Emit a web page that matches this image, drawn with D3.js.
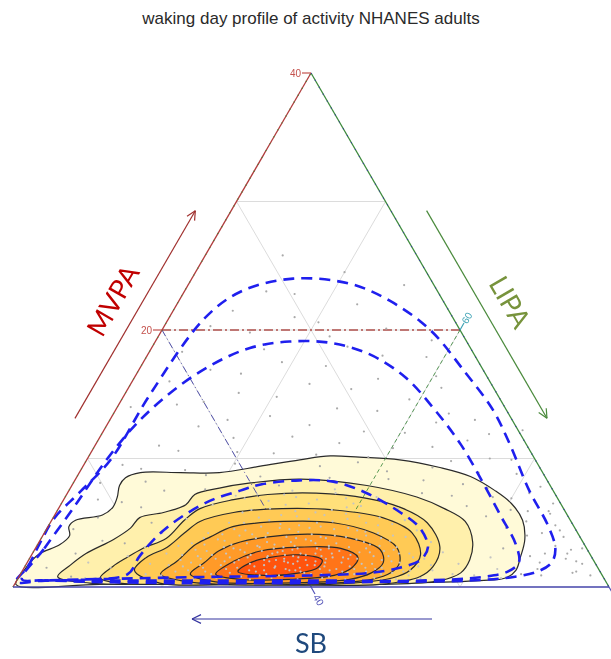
<!DOCTYPE html>
<html>
<head>
<meta charset="utf-8">
<script src="https://cdn.jsdelivr.net/npm/d3@7"></script>
<style>
  body { margin: 0; background: #fff; }
  svg { display: block; }
</style>
</head>
<body>
<svg id="chart" width="611" height="659"></svg>
<script>
// Compositions are written as [MVPA %, LIPA %]; SB % = 100 - MVPA - LIPA.
// The plotted sub-simplex: MVPA 0-40, LIPA 40-80, SB 20-60.

const title = "waking day profile of activity NHANES adults";

// kernel density regions, outermost (lowest density) first
const density1 = [[0.2,40.1],[1.3,40.1],[1.9,40.2],[2.6,40.5],[3.3,41.5],[4.0,41.8],[4.7,41.4],[5.2,41.6],[5.6,43.2],[6.2,43.6],[7.0,43.5],[7.9,43.2],[8.5,43.3],[8.9,44.1],[8.9,46.8],[8.9,49.4],[9.4,51.9],[9.9,54.3],[10.2,56.2],[10.1,58.2],[9.9,61.0],[9.3,64.0],[8.6,66.4],[7.5,68.6],[6.5,70.2],[5.2,71.6],[3.7,72.5],[2.3,72.9],[1.3,73.1],[0.7,72.7],[0.5,71.1],[0.3,65.8],[0.2,59.1],[0.2,52.4],[0.2,45.7]];
const density2 = [[0.8,42.6],[1.7,43.0],[2.6,43.6],[3.7,44.9],[4.6,45.6],[5.4,45.8],[5.8,47.2],[6.4,48.4],[7.2,48.6],[7.7,50.0],[8.1,51.9],[8.4,55.1],[7.9,59.8],[7.0,63.6],[6.1,65.9],[5.1,67.8],[3.5,69.1],[2.1,69.6],[1.1,69.5],[0.5,68.4],[0.2,64.5],[0.2,57.8],[0.2,49.8],[0.3,45.0]];
const density3 = [[0.7,45.5],[1.6,45.9],[2.3,46.5],[3.0,47.2],[3.8,48.4],[5.2,48.9],[6.1,49.5],[6.8,51.4],[7.2,53.5],[7.3,56.7],[6.9,60.3],[6.2,62.9],[5.0,65.3],[3.1,67.1],[1.6,67.4],[0.8,66.9],[0.2,64.5],[0.2,57.8],[0.2,50.4],[0.3,47.0]];
const density4 = [[1.3,47.5],[2.3,47.8],[3.1,48.8],[4.2,49.4],[5.1,50.0],[5.8,51.9],[6.1,55.0],[6.0,58.5],[5.4,62.1],[4.2,64.7],[2.5,66.1],[1.3,66.0],[0.7,65.1],[0.2,61.2],[0.2,54.5],[0.3,49.7]];
const density5 = [[1.0,49.4],[2.0,50.0],[3.3,50.6],[3.9,51.3],[4.7,52.4],[5.1,55.6],[5.0,59.0],[4.2,62.1],[3.1,64.2],[1.9,65.0],[1.1,64.8],[0.6,63.8],[0.2,59.1],[0.2,53.8],[0.5,51.0]];
const density6 = [[1.0,51.4],[1.9,51.9],[2.8,52.4],[3.5,53.5],[4.1,57.2],[3.8,60.7],[2.9,63.2],[1.9,63.9],[1.1,63.5],[0.6,62.3],[0.3,57.8],[0.4,53.4]];
const density7 = [[1.0,53.1],[2.0,53.8],[2.8,55.2],[3.1,57.7],[3.0,60.5],[2.3,62.0],[1.5,62.0],[0.9,61.1],[0.6,58.3],[0.6,54.9]];
const density8 = [[1.2,54.5],[1.9,55.0],[2.3,56.1],[2.5,58.0],[2.1,59.7],[1.5,59.7],[1.1,58.7],[0.9,56.4]];
const densityColors = ["#fffad8", "#fff0ac", "#ffe07a", "#ffca55", "#ffb23a", "#ff9a28", "#ff7418", "#ff540d"];

// coverage regions (dashed), outer to inner
const regionOuter = [[0.4,40.0],[1.6,40.2],[3.4,40.1],[5.4,40.1],[7.4,40.8],[9.9,41.6],[14.9,41.7],[20.9,42.4],[23.0,43.8],[24.0,46.8],[23.6,50.8],[22.3,54.1],[20.0,58.0],[16.7,62.0],[13.8,65.3],[11.1,67.8],[7.5,70.9],[4.8,73.5],[3.0,74.9],[1.9,75.2],[1.2,74.6],[0.8,73.3],[0.5,70.4],[0.4,64.4],[0.3,57.8],[0.3,51.1],[0.4,45.0],[0.5,41.9]];
const regionMiddle = [[0.6,40.3],[3.0,40.6],[6.4,41.0],[9.7,41.3],[12.6,41.9],[15.1,43.0],[17.2,44.6],[18.6,46.6],[19.1,49.0],[19.0,51.8],[18.1,54.9],[16.3,58.2],[13.8,61.4],[11.1,64.5],[8.2,67.4],[5.6,69.9],[3.3,72.1],[1.9,73.0],[1.2,72.6],[0.8,71.3],[0.5,67.1],[0.5,60.4],[0.5,52.3],[0.5,44.9],[0.5,41.5]];
const regionInner = [[0.5,41.2],[0.6,44.9],[1.0,47.2],[2.4,47.3],[4.2,47.8],[5.6,48.7],[6.8,50.0],[7.5,51.5],[8.0,52.7],[8.3,55.1],[8.2,57.4],[7.3,60.1],[5.8,63.1],[4.6,65.0],[3.1,66.3],[2.1,66.3],[1.5,65.2],[1.1,63.4],[0.9,59.5],[0.8,53.5],[0.7,48.8]];

// individual participants: low-density part of the sample
const participantsSparse = [
  [21.5,44.0],[22.8,47.5],[20.6,50.2],[19.8,46.0],[18.7,53.1],[17.5,49.3],[16.9,44.8],[16.2,56.4],[15.8,52.0],[15.1,47.6],
  [14.6,59.3],[14.2,43.9],[13.9,54.8],[13.3,50.6],[12.8,62.0],[12.5,46.2],[12.1,57.5],[11.7,52.9],[11.4,64.8],[11.0,44.3],
  [10.8,60.1],[10.5,49.8],[10.3,55.2],[10.0,67.0],[9.7,58.3],[9.5,42.6],[9.3,63.5],[9.1,47.0],[8.8,69.4],[8.6,52.3],
  [8.4,61.0],[8.2,44.8],[8.0,66.2],[7.8,71.5],[7.6,49.1],[7.3,63.8],[7.0,68.7],[6.8,42.3],[6.5,73.0],[6.2,45.5],
  [6.0,70.4],[5.7,73.2],[5.4,43.0],[5.1,71.9],[4.8,74.0],[4.5,41.8],[4.2,73.4],[3.9,75.0],[3.6,44.2],[3.2,74.8],
  [2.9,76.0],[2.6,42.9],[2.2,76.0],[1.8,77.3],[1.5,41.5],[1.2,77.2],[0.9,75.0],[24.5,50.0],[23.5,54.5],[25.8,45.2],
  [19.2,58.5],[17.9,58.8],[15.5,61.0],[13.0,64.5],[11.9,66.0],[9.9,68.5],[1.1,77.0],[3.0,76.7],[2.6,75.9],[2.6,74.4],
  [0.9,78.3],[18.3,42.2],[20.1,55.0],[14.0,40.9],[16.4,60.2],[12.2,68.1],[22.0,52.1],
  [23.0,45.5],[21.0,48.4],[20.3,43.1],[19.5,51.5],[18.5,47.6],[18.0,55.8],[17.2,52.4],[16.6,47.0],[16.0,42.5],[15.4,55.0],
  [14.8,50.3],[14.4,45.6],[13.7,57.6],[13.5,62.5],[13.0,47.9],[12.6,53.6],[12.0,60.3],[11.6,49.0],[11.2,56.3],[10.9,62.7],
  [10.6,45.8],[10.4,52.3],[10.1,58.8],[9.8,64.5],[9.6,50.1],[9.4,55.9],[9.2,44.0],[9.0,60.6],[8.9,66.8],[8.7,48.6],
  [8.5,57.0],[8.3,63.4],[8.1,41.8],[7.9,53.9],[7.7,68.0],[7.5,46.4],[7.1,65.9],[6.9,70.0],[6.6,44.0],[6.3,67.3],
  [5.9,71.6],[5.5,69.0],[5.0,46.8],[4.6,70.8],[4.0,72.5],[3.4,45.8],[3.0,71.4],[2.4,73.5],[1.9,74.4],[1.4,74.5],
  [1.0,73.6],[0.8,43.5],[2.0,76.8],[4.4,74.5],[5.9,73.0],[7.3,71.0]
];
// individual participants: high-density core
const participantsCore = [
  [1.1,47.2],[0.9,49.5],[1.3,51.1],[1.0,52.8],[1.4,53.6],[0.8,54.9],[1.2,55.7],[1.5,56.8],[0.9,57.4],[1.3,58.3],
  [1.1,59.0],[1.4,59.9],[0.8,60.8],[1.2,61.5],[1.0,62.4],[1.4,63.6],[1.1,64.9],[0.9,66.1],[1.3,67.5],[1.0,69.0],
  [1.2,50.3],[1.5,54.3],[0.9,56.1],[1.3,57.9],[1.0,60.2],[1.5,62.9],[1.2,65.6],
  [1.8,48.3],[2.1,50.2],[1.7,51.7],[2.2,52.5],[1.9,53.9],[2.3,54.6],[1.6,55.4],[2.0,56.2],[2.2,57.1],[1.8,57.9],
  [2.1,58.6],[1.7,59.4],[2.3,60.3],[1.9,61.1],[2.2,62.0],[1.8,63.2],[2.0,64.4],[2.3,65.7],[1.7,67.2],[2.1,55.8],
  [1.9,57.5],[2.2,59.9],[1.6,61.8],[2.0,53.2],
  [2.6,49.0],[2.9,50.8],[2.5,52.1],[3.0,53.3],[2.7,54.2],[3.1,55.0],[2.4,55.9],[2.8,56.7],[3.0,57.6],[2.5,58.4],
  [2.9,59.2],[2.6,60.1],[3.1,61.0],[2.7,61.9],[2.4,63.0],[2.9,64.1],[2.6,65.3],[2.8,55.3],[3.0,58.9],[2.5,57.0],[2.7,62.6],
  [3.4,50.3],[3.7,51.9],[3.3,53.0],[3.8,54.4],[3.5,55.3],[3.9,56.4],[3.2,57.3],[3.6,58.2],[3.8,59.1],[3.4,60.0],
  [3.7,61.2],[3.3,62.3],[3.6,63.5],[3.5,56.9],[3.9,58.7],
  [4.2,51.0],[4.5,52.6],[4.1,54.0],[4.6,55.6],[4.3,57.0],[4.7,58.3],[4.0,59.6],[4.4,60.9],[4.2,62.4],[4.5,56.3],
  [5.0,52.0],[5.4,53.8],[4.9,55.5],[5.3,57.2],[5.1,58.9],[5.5,60.5],[4.8,62.1],
  [6.0,53.0],[6.4,55.1],[5.8,57.4],[6.2,59.3],[6.6,61.4],
  [0.7,44.5],[1.5,45.8],[2.4,46.5],[3.1,47.3],[0.5,42.8],[1.9,44.1],[4.2,47.9],[5.3,49.0],[6.4,50.2],[7.1,51.4],[0.6,46.7],
  [0.9,70.5],[1.8,69.0],[2.7,67.5],[3.5,66.3],[4.4,64.9],[5.2,63.7],[6.1,62.8],[7.0,60.9],[7.6,57.8],[7.2,54.6],
  [6.9,52.1],[1.4,71.8],[2.3,70.9],[0.7,72.4],
  [0.6,51.8],[0.7,53.3],[0.6,55.6],[0.7,57.0],[0.6,58.8],[0.7,60.4],[0.6,62.0],[0.7,63.9],[0.6,65.4],[0.7,67.0],
  [1.0,48.4],[1.2,52.3],[1.1,54.0],[1.3,55.2],[1.0,56.5],[1.4,57.6],[1.2,58.7],[1.0,59.5],[1.3,60.6],[1.1,61.9],
  [1.4,62.2],[1.2,63.1],[1.0,64.2],[1.3,66.0],
  [1.7,49.6],[1.9,51.0],[2.2,51.5],[1.7,53.1],[2.1,54.1],[1.8,55.0],[2.3,55.9],[1.6,56.8],[2.0,57.2],[2.3,58.0],
  [1.7,58.9],[2.0,59.3],[2.2,61.4],[1.8,62.5],[2.1,63.7],[1.9,65.0],
  [2.5,50.1],[2.8,51.6],[2.6,53.0],[2.9,53.8],[2.5,54.7],[3.0,56.0],[2.7,56.4],[2.9,57.3],[2.6,58.0],[3.0,59.7],
  [2.8,60.5],[2.5,61.4],[3.0,62.2],[2.8,63.5],[2.6,64.6],
  [3.3,51.2],[3.6,52.4],[3.4,54.0],[3.9,55.0],[3.3,55.9],[3.7,57.8],[3.4,58.6],[3.9,60.4],[3.5,61.8],[3.2,63.0],[3.8,62.8],
  [4.1,52.0],[4.4,53.4],[4.2,55.0],[4.6,57.6],[4.1,58.0],[4.5,59.3],[4.3,61.5],[4.0,63.5],
  [5.0,53.0],[5.2,54.6],[5.5,56.3],[5.0,57.9],[5.3,59.8],[5.0,61.2],[5.6,58.1],
  [6.1,54.2],[6.5,56.6],[6.0,58.4],[6.3,60.2],[5.9,56.0],
  [7.0,55.5],[7.3,58.0],[6.8,57.0],[7.5,55.0],[7.2,52.8],
  [0.5,48.0],[0.5,50.5],[0.5,53.9],[0.5,57.8],[0.5,61.1],[0.5,64.5],[0.5,68.3],
  [1.6,50.6],[1.5,52.0],[1.6,60.1],[1.5,64.0],[1.6,66.4],
  [2.4,51.2],[2.3,53.4],[2.4,57.6],[2.3,61.0],[2.4,64.0],[2.2,66.5],
  [3.2,49.5],[3.1,52.6],[3.2,54.8],[3.1,56.6],[3.2,59.6],[3.1,64.2],
  [3.8,50.9],[4.0,53.2],[3.8,57.1],[4.0,61.7],[3.9,64.4],
  [4.7,54.3],[4.8,56.8],[4.6,60.2],[4.9,63.0],
  [5.6,55.2],[5.7,59.5],[5.4,61.9],[5.8,52.5],
  [6.7,53.8],[6.9,58.9],[6.5,59.6],
  [1.3,56.2],[1.7,56.0],[2.1,56.6],[2.6,56.1],[1.5,58.5],[2.0,58.1],[2.4,59.5],[1.9,60.0],[1.4,61.0],[2.6,59.0]
];

// axis ticks and grid
const mvpaTicks = [20, 40];
const lipaTicks = [60];
const sbTicks = [40];
const sbCornerTick = [20];
const mvpaGrid = [10, 20, 30];
const lipaGrid = [50, 60, 70];
const sbGrid = [30, 40, 50];
const mvpaRange = [0, 40], lipaRange = [40, 80], sbRange = [20, 60];

// ---------------------------------------------------------------
const svg = d3.select("#chart");
const apex = [311, 73], left = [13, 587], right = [609, 587];

const yMvpa = d3.scaleLinear().domain(mvpaRange).range([left[1], apex[1]]);
const xSb = d3.scaleLinear().domain([sbRange[1], sbRange[0]]).range([left[0], right[0]]);
// ternary -> screen: height from MVPA, horizontal position from SB + MVPA/2
const pos = ([m, l]) => [xSb(100 - l - m / 2), yMvpa(m)];

const closedPath = d3.line().x(d => pos(d)[0]).y(d => pos(d)[1])
  .curve(d3.curveCatmullRomClosed.alpha(0.5));
const straight = d3.line().x(d => pos(d)[0]).y(d => pos(d)[1]);

// title
svg.append("text").attr("x", 311).attr("y", 24).attr("text-anchor", "middle")
  .attr("font-family", "Liberation Sans, Arial, sans-serif").attr("font-size", 17)
  .attr("fill", "#2a2a2a").text(title);

// grid lines (every 10 %)
const gridG = svg.append("g").attr("stroke", "#dcdcdc").attr("stroke-width", 1).attr("fill", "none");
const mvpaLine = v => [[v, lipaRange[0]], [v, 100 - sbRange[0] - v]];
const lipaLine = v => [[100 - v - sbRange[0], v], [0, v]];
const sbLine = v => [[100 - v - lipaRange[0], lipaRange[0]], [0, 100 - v]];
mvpaGrid.forEach(v => gridG.append("path").attr("d", straight(mvpaLine(v))));
lipaGrid.forEach(v => gridG.append("path").attr("d", straight(lipaLine(v))));
sbGrid.forEach(v => gridG.append("path").attr("d", straight(sbLine(v))));

// density bands
const bands = [density1, density2, density3, density4, density5, density6, density7, density8];
const densG = svg.append("g");
bands.forEach((b, i) => {
  densG.append("path").attr("d", closedPath(b)).attr("fill", densityColors[i])
    .attr("stroke", "#2a2a2a").attr("stroke-width", 1.2);
});

// reference lines at the midpoints of each axis, hidden inside the dense core
const defs = svg.append("defs");
const mask = defs.append("mask").attr("id", "outsideCore").attr("maskUnits", "userSpaceOnUse");
mask.append("rect").attr("x", 0).attr("y", 0).attr("width", 611).attr("height", 659).attr("fill", "#fff");
mask.append("path").attr("d", closedPath(density4)).attr("fill", "#000");

const refG = svg.append("g").attr("fill", "none").attr("mask", "url(#outsideCore)");
refG.append("path").attr("d", straight(mvpaLine(20))).attr("stroke", "#b0504c")
  .attr("stroke-width", 1.5).attr("stroke-dasharray", "9,3,2,3");
refG.append("path").attr("d", straight(lipaLine(60))).attr("stroke", "#3d8a3d")
  .attr("stroke-width", 1).attr("stroke-dasharray", "4,3").attr("opacity", 0.85);
refG.append("path").attr("d", straight(sbLine(40))).attr("stroke", "#3a3aa0")
  .attr("stroke-width", 1).attr("stroke-dasharray", "7,3,1,3").attr("opacity", 0.85);

// participants
const ptG = svg.append("g");
ptG.selectAll("circle.sparse").data(participantsSparse).join("circle").attr("class", "sparse")
  .attr("cx", d => pos(d)[0]).attr("cy", d => pos(d)[1]).attr("r", 1.1)
  .attr("fill", "#a9a9a9");
ptG.selectAll("circle.core").data(participantsCore).join("circle").attr("class", "core")
  .attr("cx", d => pos(d)[0]).attr("cy", d => pos(d)[1]).attr("r", 1.1)
  .attr("fill", "#c4c4c4");

// coverage regions
const regG = svg.append("g").attr("fill", "none").attr("stroke", "#1f1fee")
  .attr("stroke-width", 2.6).attr("stroke-dasharray", "11,7");
[regionOuter, regionMiddle, regionInner].forEach(r => regG.append("path").attr("d", closedPath(r)));

// triangle edges
const edgeG = svg.append("g").attr("fill", "none");
edgeG.append("line").attr("x1", left[0]).attr("y1", left[1]).attr("x2", apex[0]).attr("y2", apex[1])
  .attr("stroke", "#b03c3c").attr("stroke-width", 1.3);
edgeG.append("line").attr("x1", left[0]).attr("y1", left[1]).attr("x2", apex[0]).attr("y2", apex[1])
  .attr("stroke", "#3d8a3d").attr("stroke-width", 1.2).attr("stroke-dasharray", "1,7");
edgeG.append("line").attr("x1", apex[0]).attr("y1", apex[1]).attr("x2", right[0]).attr("y2", right[1])
  .attr("stroke", "#3d8a3d").attr("stroke-width", 1.3);
edgeG.append("line").attr("x1", apex[0]).attr("y1", apex[1]).attr("x2", right[0]).attr("y2", right[1])
  .attr("stroke", "#3a3aa0").attr("stroke-width", 1.2).attr("stroke-dasharray", "1,7");
edgeG.append("line").attr("x1", left[0]).attr("y1", left[1]).attr("x2", right[0]).attr("y2", right[1])
  .attr("stroke", "#4444aa").attr("stroke-width", 1.5);

// ticks
const tickG = svg.append("g").attr("font-family", "Liberation Sans, Arial, sans-serif").attr("font-size", 10);
function tick(pt, dir, len, text, color, labelDist, rot, anchor) {
  const [x, y] = pos(pt);
  tickG.append("line").attr("x1", x).attr("y1", y)
    .attr("x2", x + dir[0] * len).attr("y2", y + dir[1] * len)
    .attr("stroke", color).attr("stroke-width", 1.2);
  if (text === null) return;
  const lx = x + dir[0] * labelDist, ly = y + dir[1] * labelDist;
  tickG.append("text").attr("x", lx).attr("y", ly).attr("dy", "0.35em")
    .attr("text-anchor", anchor).attr("fill", color)
    .attr("transform", `rotate(${rot},${lx},${ly})`).text(text);
}
const s60 = Math.sqrt(3) / 2;
mvpaTicks.forEach(v => tick([v, lipaRange[0]], [-1, 0], 9, v, "#c4514c", 10, 0, "end"));
lipaTicks.forEach(v => tick([100 - v - sbRange[0], v], [0.5, -s60], 8, v, "#3fa3b5", 14, -60, "middle"));
sbTicks.forEach(v => tick([0, 100 - v], [0.5, s60], 8, v, "#5252b8", 15, 60, "middle"));
// the SB tick at the right corner falls at the page edge; only its mark shows
sbCornerTick.forEach(v => tick([0, 100 - v], [0.5, s60], 10, null, "#5252b8", 0, 0, "middle"));

// axis direction arrows and names
function edgeArrow(P0, P1, t0, t1, off, color, name, nameColor, nameOff) {
  const L = Math.hypot(P1[0] - P0[0], P1[1] - P0[1]);
  const d = [(P1[0] - P0[0]) / L, (P1[1] - P0[1]) / L];
  const n = [d[1], -d[0]];
  const at = (t, o) => [P0[0] + d[0] * t + n[0] * o, P0[1] + d[1] * t + n[1] * o];
  const s = at(t0, off), e = at(t1, off);
  const g = svg.append("g").attr("stroke", color).attr("stroke-width", 1.2).attr("fill", "none");
  g.append("line").attr("x1", s[0]).attr("y1", s[1]).attr("x2", e[0]).attr("y2", e[1]);
  const ang = Math.atan2(d[1], d[0]), h = 10, spread = 0.45;
  [-spread, spread].forEach(a => {
    g.append("line").attr("x1", e[0]).attr("y1", e[1])
      .attr("x2", e[0] - h * Math.cos(ang + a)).attr("y2", e[1] - h * Math.sin(ang + a));
  });
  const c = at((t0 + t1) / 2 + 1, nameOff);
  let deg = ang * 180 / Math.PI;
  if (deg > 90) deg -= 180;
  if (deg < -90) deg += 180;
  svg.append("text").attr("x", c[0]).attr("y", c[1]).attr("dy", "0.35em")
    .attr("text-anchor", "middle").attr("font-family", "Lato, Open Sans, sans-serif")
    .attr("font-size", 27).attr("fill", nameColor)
    .attr("transform", `rotate(${deg},${c[0]},${c[1]})`).text(name);
}
edgeArrow(left, apex, 177, 417, 31, "#a0302e", "MVPA", "#c00000", 57);
edgeArrow(apex, right, 177, 417, 31, "#4a8a3c", "LIPA", "#77933c", 57);
edgeArrow(right, left, 177, 417, 32, "#3535a0", "SB", "#1f497d", 57);
</script>
</body>
</html>
